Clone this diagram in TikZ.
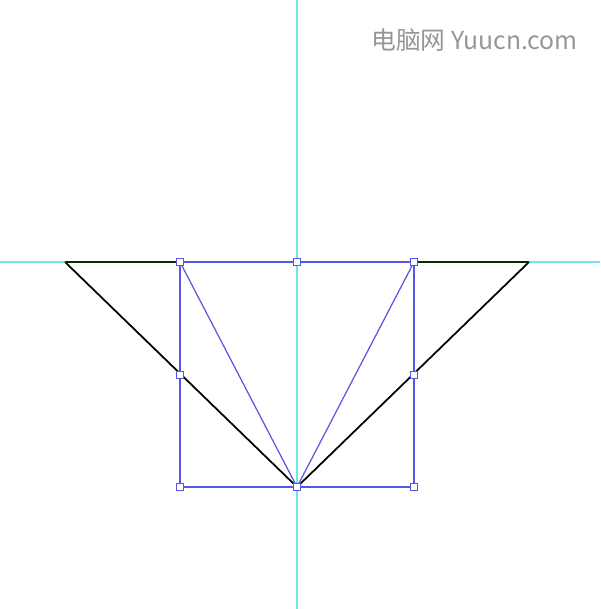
\documentclass[tikz,border=0pt]{standalone}
\usepackage{fontspec}
\newfontfamily\cjk{Noto Sans CJK SC}
\definecolor{guidecyan}{RGB}{110,228,240}
\definecolor{selblue}{RGB}{88,86,228}
\definecolor{markgray}{RGB}{150,150,150}
\tikzset{
    guide/.style={guidecyan, line width=0.6pt},
    selline/.style={selblue, line width=0.7pt},
    handle/.style={draw=selblue, fill=white, line width=0.5pt, minimum size=4.4pt, inner sep=0pt, rectangle}
}
\begin{document}
\begin{tikzpicture}[x=0.02cm, y=-0.02cm]
        \useasboundingbox (0,0) rectangle (600,609);
        \draw [guide] (297,0) -- (297,609);
        \draw [guide] (0,262) -- (600,262);
        \coordinate (L) at (65,262);
        \coordinate (R) at (529,262);
        \coordinate (A) at (297,487);
        \draw [line width=1pt] (L) -- (A) -- (R);
        \draw [line width=1.2pt, black!70!green!60!black] (L) -- (R);
        \draw [selline] (180,262) rectangle (414,487);
        \draw [selline] (180,262) -- (A) -- (414,262);
        \draw [selline] (180,262) -- (414,262);
        \foreach \x/\y in {180/262, 297/262, 414/262, 180/375, 414/375, 180/487, 297/487, 414/487}
            \node [handle] at (\x,\y) {};
        \node [markgray, anchor=west, inner sep=0pt] at (371,40) {\cjk\fontsize{14.1pt}{17pt}\selectfont 电脑网 Yuucn.com};
    \end{tikzpicture}
\end{document}
